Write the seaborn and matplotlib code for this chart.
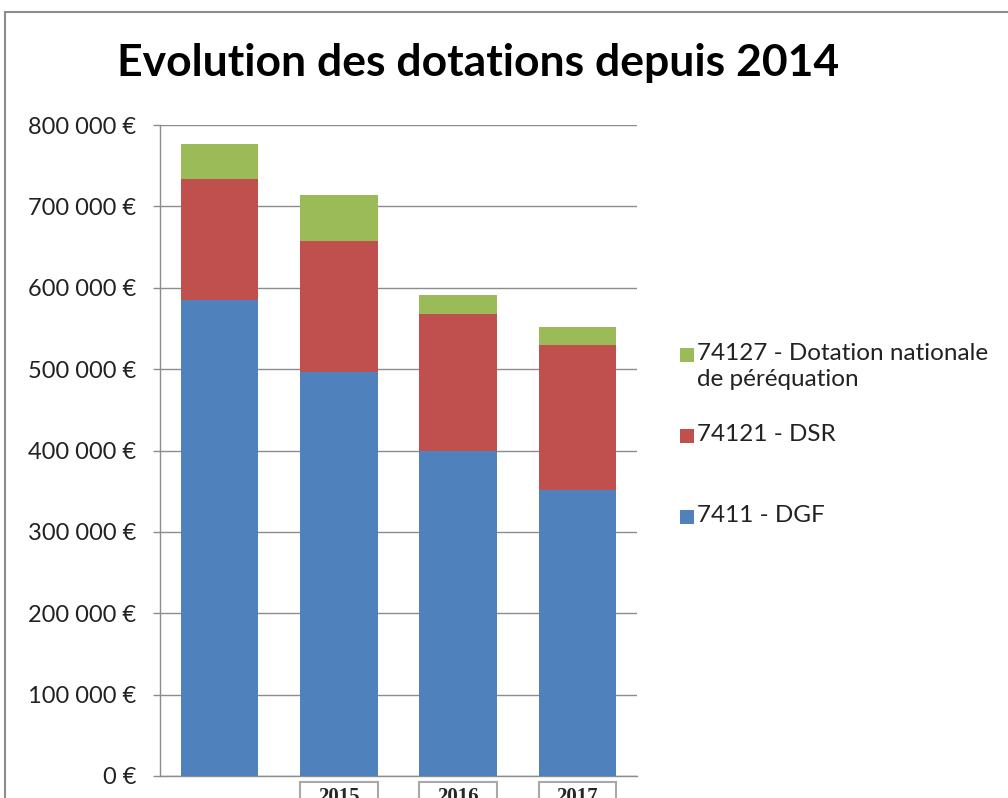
import matplotlib
matplotlib.use("Agg")
import matplotlib.pyplot as plt
import matplotlib.patches as mpatches
import matplotlib.transforms as mtransforms
import numpy as np
import seaborn as sns

years = ["2014", "2015", "2016", "2017"]
tick_labels = ["", "2015", "2016", "2017"]
dgf = [585000, 496500, 400000, 352000]        # 7411 - DGF
dsr = [148500, 161000, 167500, 178000]        # 74121 - DSR
dnp = [43000, 56500, 23500, 22000]            # 74127 - Dotation nationale de péréquation

series_names = ["7411 - DGF", "74121 - DSR", "74127 - Dotation nationale\nde péréquation"]
colors = ["#4F81BD", "#C0504D", "#9BBB59"]

sns.set_style("white")
plt.rcParams["font.family"] = ["Lato", "DejaVu Sans"]

W, H = 1008, 798
fig = plt.figure(figsize=(W / 100, H / 100), dpi=100)
ax = fig.add_axes([160 / W, 22 / H, 477 / W, 651 / H])

# stacked bars: draw cumulative totals from the top down
cum1 = np.array(dgf)
cum2 = cum1 + np.array(dsr)
cum3 = cum2 + np.array(dnp)
for tot, col in [(cum3, colors[2]), (cum2, colors[1]), (cum1, colors[0])]:
    sns.barplot(x=years, y=tot, color=col, saturation=1, width=0.65,
                linewidth=0, ax=ax, zorder=3)

ax.set_ylim(0, 800000)
ax.set_xlim(-0.5, 3.5)
ax.set_yticks(np.arange(0, 800001, 100000))
ax.set_yticklabels([f"{v:,.0f} €".replace(",", " ") for v in range(0, 800001, 100000)],
                   fontsize=17, color="#222222")
ax.yaxis.grid(True, color="#8c8c8c", linewidth=1, zorder=0)
ax.set_axisbelow(True)
ax.tick_params(axis="y", left=True, length=5, width=1, color="#8c8c8c", pad=12)
ax.set_xlabel("")
ax.set_ylabel("")
ax.set_xticks(range(len(years)))
ax.set_xticklabels(tick_labels, fontsize=15, fontweight="bold", family="Liberation Serif")
ax.tick_params(axis="x", bottom=False, pad=4.5)
for s in ["top", "right"]:
    ax.spines[s].set_visible(False)
for s in ["left", "bottom"]:
    ax.spines[s].set_color("#8c8c8c")
    ax.spines[s].set_linewidth(1)

# grey boxes around the year labels, as wide as the bars
blend = mtransforms.blended_transform_factory(ax.transData, fig.transFigure)
for i, lab in enumerate(tick_labels):
    if lab:
        fig.patches.append(mpatches.Rectangle((i - 0.325, -0.02), 0.65, 0.02 + (H - 782) / H,
                                              transform=blend, fill=False,
                                              edgecolor="#a8a8a8", linewidth=1.5))

fig.text(478 / W, 1 - 63 / H, "Evolution des dotations depuis 2014", ha="center", va="center",
         fontsize=32, fontweight="bold", color="black")

# legend, drawn by hand to keep Excel's spacing (square beside the first line)
legend_y = [517, 436, 355]
for i in [2, 1, 0]:
    yc = 1 - legend_y[i] / H
    fig.patches.append(mpatches.Rectangle((680 / W, yc - 7 / H), 14 / W, 14 / H,
                                          transform=fig.transFigure, facecolor=colors[i],
                                          edgecolor="none"))
    fig.text(697 / W, yc + 12 / H, series_names[i], ha="left", va="top",
             fontsize=17.5, color="#222222", linespacing=1.3)

# outer chart frame
fig.patches.append(mpatches.Rectangle((5 / W, -0.05), 1.1, 1 - 12 / H + 0.05,
                                      transform=fig.transFigure, fill=False,
                                      edgecolor="#8c8c8c", linewidth=1.5))

fig.savefig("out.png", dpi=100)
